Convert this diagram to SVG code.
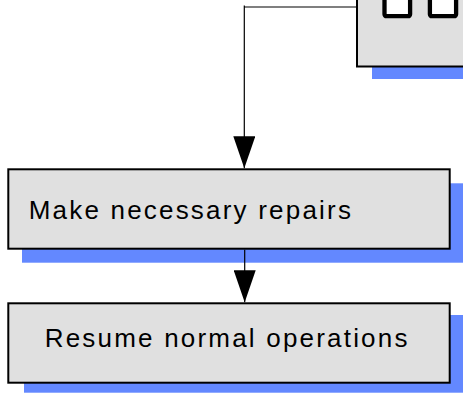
<svg xmlns="http://www.w3.org/2000/svg" width="463" height="393" viewBox="0 0 463 393">
  <style>
    .shadow { fill: #6388ff; stroke: none; }
    .box { fill: #e0e0e0; stroke: #000000; stroke-width: 2; }
    .win { fill: #ffffff; stroke: #000000; stroke-width: 4.3; }
    .label { font-family: "Liberation Sans", Arial, sans-serif; font-size: 26px; letter-spacing: 2.2px; fill: #000000; }
    .conn { fill: none; stroke: #000000; stroke-width: 1.2; }
  </style>
  <defs>
    <marker id="arrow" markerUnits="userSpaceOnUse" viewBox="0 0 32 22" refX="32" refY="11" markerWidth="32" markerHeight="22" orient="auto">
      <path d="M0,0 L32,11 L0,22 Z" fill="#000000"/>
    </marker>
  </defs>
  <rect width="463" height="393" fill="#ffffff"/>

  <g id="node-top">
    <rect class="shadow" x="372" y="60" width="100" height="19"/>
    <rect class="box" x="357" y="-50" width="120" height="116.5"/>
    <rect class="win" x="384.5" y="-10" width="25.6" height="26.2" rx="2"/>
    <rect class="win" x="429.9" y="-10" width="26.2" height="26.2" rx="2"/>
  </g>

  <g id="node-repairs">
    <rect class="shadow" x="22" y="183.3" width="445" height="79.4"/>
    <rect class="box" x="8.3" y="169.3" width="441.4" height="79.4"/>
    <text class="label" x="28.7" y="219">Make necessary repairs</text>
  </g>

  <g id="node-resume">
    <rect class="shadow" x="24" y="315" width="445" height="77.7"/>
    <rect class="box" x="8.3" y="303.3" width="441.4" height="79.4"/>
    <text class="label" x="44.7" y="347.3">Resume normal operations</text>
  </g>

  <g id="connectors">
    <path class="conn" d="M358,7 H244.3 V5.5 M244.3,7 V168.3" marker-end="url(#arrow)"/>
    <path class="conn" d="M244.7,249.7 V302.3" marker-end="url(#arrow)"/>
  </g>
</svg>
